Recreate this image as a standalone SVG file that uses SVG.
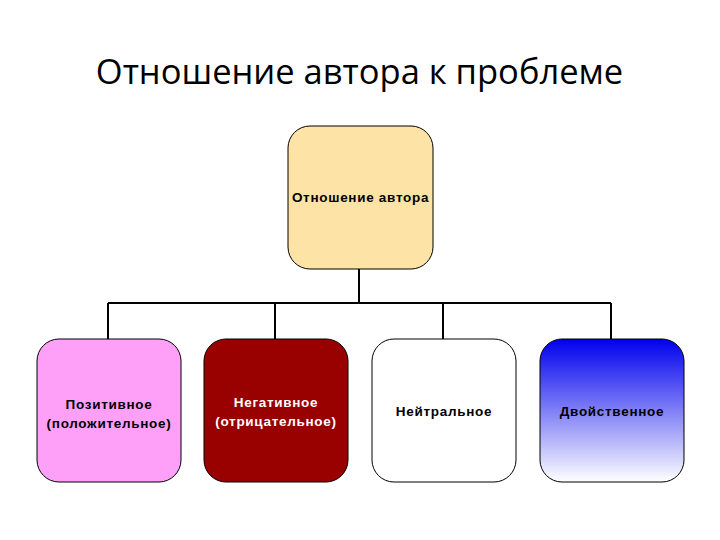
<svg xmlns="http://www.w3.org/2000/svg" width="720" height="540" viewBox="0 0 720 540">
<style>
.box{stroke:#000;stroke-width:1}
.lbl{font-family:"Liberation Sans",Arial,sans-serif;font-size:13.5px;font-weight:bold;text-anchor:middle;letter-spacing:0.7px}
.conn{stroke:#000;stroke-width:2;fill:none}
.title{font-family:"Open Sans","Noto Sans",sans-serif;font-size:34.5px;text-anchor:middle;fill:#000}
</style>
<defs>
<linearGradient id="blue" x1="0" y1="0" x2="0" y2="1">
<stop offset="0" stop-color="#0000ee"/>
<stop offset="1" stop-color="#ffffff"/>
</linearGradient>
</defs>
<rect width="720" height="540" fill="#fff"/>
<text class="title" x="359.5" y="84">Отношение автора к проблеме</text>
<g id="connectors">
<path class="conn" d="M359,269 V303 M108,303 H611 M108,303 V340 M275,303 V340 M443,303 V340 M611,303 V340"/>
</g>
<g id="root">
<rect class="box" x="288" y="126" width="145" height="143" rx="22" fill="#fde3a5"/>
<text class="lbl" x="360.5" y="202">Отношение автора</text>
</g>
<g id="positive">
<rect class="box" x="37" y="339" width="144" height="143" rx="22" fill="#ffa0f8"/>
<text class="lbl" x="109" y="409">Позитивное</text>
<text class="lbl" x="109" y="428">(положительное)</text>
</g>
<g id="negative">
<rect class="box" x="204" y="339" width="144" height="143" rx="22" fill="#990000"/>
<text class="lbl" x="276" y="407" fill="#fff">Негативное</text>
<text class="lbl" x="276" y="426" fill="#fff">(отрицательное)</text>
</g>
<g id="neutral">
<rect class="box" x="372" y="339" width="144" height="143" rx="22" fill="#fff"/>
<text class="lbl" x="444" y="416">Нейтральное</text>
</g>
<g id="dual">
<rect class="box" x="540" y="339" width="144" height="143" rx="22" fill="url(#blue)"/>
<text class="lbl" x="612" y="416">Двойственное</text>
</g>
</svg>
